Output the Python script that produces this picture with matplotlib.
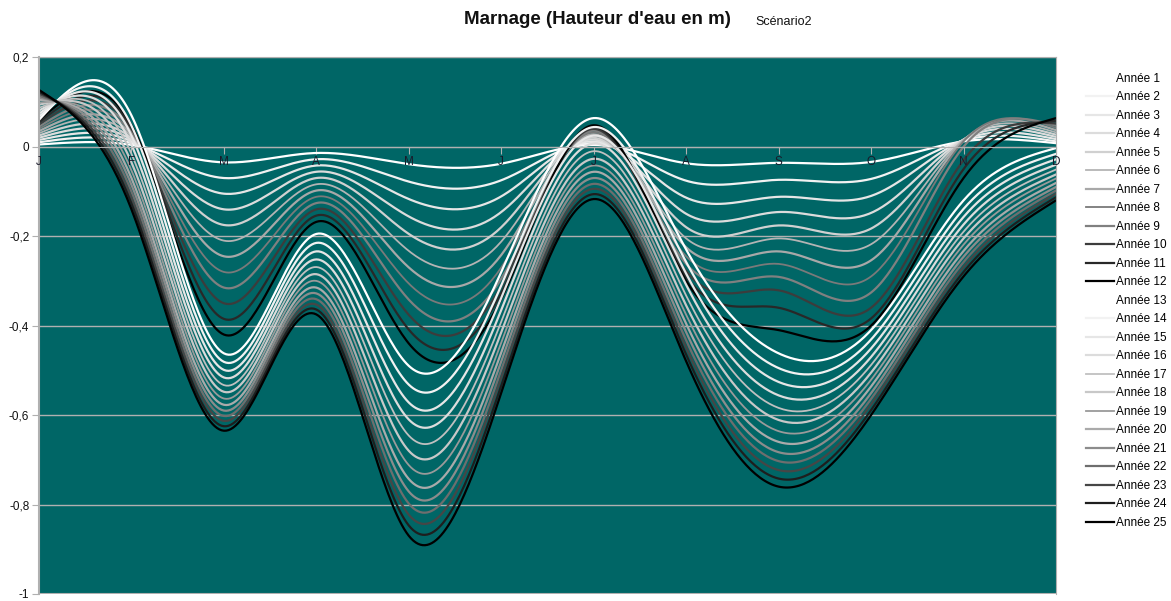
import numpy as np
import matplotlib
matplotlib.use("Agg")
import matplotlib.pyplot as plt
from matplotlib.lines import Line2D

plt.rcParams['font.family'] = ['Liberation Sans', 'DejaVu Sans']

# Mois (axe des catégories)
mois = ["J", "F", "M", "A", "M", "J", "J", "A", "S", "O", "N", "D"]

# Hauteur d'eau mensuelle (m) pour chaque année
annee_01 = [0.005, 0.004, -0.035, -0.014, -0.039, -0.038, 0.004, -0.037, -0.036, -0.034, 0.012, 0.008]
annee_02 = [0.010, 0.008, -0.070, -0.028, -0.078, -0.075, 0.008, -0.076, -0.074, -0.072, 0.014, 0.012]
annee_03 = [0.015, 0.012, -0.105, -0.042, -0.117, -0.111, 0.012, -0.114, -0.112, -0.110, 0.015, 0.017]
annee_04 = [0.020, 0.016, -0.140, -0.056, -0.156, -0.146, 0.016, -0.150, -0.146, -0.148, 0.016, 0.022]
annee_05 = [0.025, 0.020, -0.175, -0.070, -0.195, -0.180, 0.020, -0.180, -0.176, -0.183, 0.016, 0.027]
annee_06 = [0.030, 0.024, -0.210, -0.084, -0.233, -0.212, 0.024, -0.205, -0.205, -0.218, 0.015, 0.032]
annee_07 = [0.035, 0.028, -0.245, -0.098, -0.270, -0.242, 0.028, -0.225, -0.234, -0.254, 0.014, 0.037]
annee_08 = [0.040, 0.032, -0.280, -0.112, -0.306, -0.270, 0.032, -0.245, -0.262, -0.290, 0.012, 0.042]
annee_09 = [0.045, 0.036, -0.315, -0.126, -0.342, -0.295, 0.036, -0.262, -0.291, -0.326, 0.000, 0.047]
annee_10 = [0.050, 0.040, -0.350, -0.140, -0.376, -0.312, 0.040, -0.278, -0.321, -0.360, -0.030, 0.052]
annee_11 = [0.055, 0.044, -0.385, -0.154, -0.409, -0.327, 0.044, -0.290, -0.360, -0.384, -0.050, 0.058]
annee_12 = [0.060, 0.048, -0.420, -0.168, -0.440, -0.340, 0.048, -0.300, -0.410, -0.400, -0.070, 0.064]
annee_13 = [0.060, 0.070, -0.462, -0.195, -0.490, -0.280, 0.064, -0.230, -0.462, -0.410, -0.120, -0.003]
annee_14 = [0.067, 0.047, -0.481, -0.215, -0.532, -0.310, 0.044, -0.258, -0.495, -0.431, -0.139, -0.016]
annee_15 = [0.074, 0.025, -0.499, -0.234, -0.572, -0.338, 0.025, -0.284, -0.526, -0.451, -0.157, -0.028]
annee_16 = [0.081, 0.004, -0.516, -0.252, -0.610, -0.365, 0.007, -0.309, -0.556, -0.470, -0.174, -0.040]
annee_17 = [0.087, -0.016, -0.533, -0.269, -0.646, -0.391, -0.010, -0.333, -0.584, -0.488, -0.190, -0.051]
annee_18 = [0.094, -0.035, -0.548, -0.285, -0.680, -0.415, -0.027, -0.355, -0.611, -0.505, -0.205, -0.062]
annee_19 = [0.099, -0.053, -0.563, -0.300, -0.712, -0.438, -0.042, -0.376, -0.636, -0.521, -0.219, -0.071]
annee_20 = [0.105, -0.070, -0.577, -0.315, -0.743, -0.460, -0.056, -0.396, -0.660, -0.536, -0.233, -0.081]
annee_21 = [0.110, -0.085, -0.590, -0.328, -0.771, -0.480, -0.070, -0.415, -0.683, -0.551, -0.246, -0.090]
annee_22 = [0.114, -0.100, -0.602, -0.341, -0.798, -0.499, -0.083, -0.433, -0.703, -0.564, -0.258, -0.098]
annee_23 = [0.119, -0.114, -0.613, -0.353, -0.823, -0.516, -0.094, -0.449, -0.723, -0.576, -0.269, -0.105]
annee_24 = [0.123, -0.127, -0.625, -0.364, -0.847, -0.534, -0.106, -0.465, -0.742, -0.589, -0.280, -0.113]
annee_25 = [0.127, -0.140, -0.635, -0.375, -0.870, -0.550, -0.117, -0.480, -0.760, -0.600, -0.290, -0.120]

series = [annee_01, annee_02, annee_03, annee_04, annee_05, annee_06, annee_07,
          annee_08, annee_09, annee_10, annee_11, annee_12, annee_13, annee_14,
          annee_15, annee_16, annee_17, annee_18, annee_19, annee_20, annee_21,
          annee_22, annee_23, annee_24, annee_25]
noms = ["Année %d" % i for i in range(1, 26)]

# Niveaux de gris de chaque année
couleurs = ["#ffffff", "#f2f2f2", "#e6e6e6", "#dcdcdc", "#d0d0d0", "#b4b4b4",
            "#a8a8a8", "#7a7a7a", "#808080", "#3c3c3c", "#282828", "#000000",
            "#ffffff", "#f2f2f2", "#e6e6e6", "#dcdcdc", "#c0c0c0", "#c8c8c8",
            "#9a9a9a", "#aaaaaa", "#8c8c8c", "#6e6e6e", "#464646", "#1e1e1e",
            "#000000"]
epaisseurs = [1.6, 1.6, 1.6, 1.6, 1.6, 1.3, 1.6, 1.3, 1.6, 1.6, 1.6, 1.6,
              1.6, 1.6, 1.6, 1.6, 1.3, 1.6, 1.3, 1.6, 1.6, 1.6, 1.6, 1.6, 1.6]

fond = "#006666"
gris = "#b0b0b0"


def spline_naturelle(y, pas=40):
    """Courbe lissée (spline cubique naturelle) sur des catégories équidistantes."""
    y = np.asarray(y, dtype=float)
    n = len(y)
    A = np.zeros((n, n))
    b = np.zeros(n)
    A[0, 0] = A[-1, -1] = 1.0
    for i in range(1, n - 1):
        A[i, i - 1], A[i, i], A[i, i + 1] = 1.0, 4.0, 1.0
        b[i] = 6.0 * (y[i + 1] - 2.0 * y[i] + y[i - 1])
    m = np.linalg.solve(A, b)
    xs, ys = [], []
    for i in range(n - 1):
        u = np.linspace(0.0, 1.0, pas, endpoint=(i == n - 2))
        s = (m[i] * (1 - u) ** 3 / 6 + m[i + 1] * u ** 3 / 6
             + (y[i] - m[i] / 6) * (1 - u) + (y[i + 1] - m[i + 1] / 6) * u)
        xs.append(i + u)
        ys.append(s)
    return np.concatenate(xs), np.concatenate(ys)


fig = plt.figure(figsize=(11.71, 6.01), dpi=100)
ax = fig.add_axes([0.0333, 0.0117, 0.8685, 0.8930])
ax.set_facecolor(fond)
ax.set_xlim(0, len(mois) - 1)
ax.set_ylim(-1.0, 0.2)

# Grille horizontale
yt = [0.2, 0.0, -0.2, -0.4, -0.6, -0.8, -1.0]
ax.set_yticks(yt)
ax.set_yticklabels(["0,2", "0", "-0,2", "-0,4", "-0,6", "-0,8", "-1"])
ax.tick_params(axis='y', length=5, color=gris, labelsize=8.5, pad=2, labelcolor="#111111")
ax.yaxis.grid(True, color=gris, linewidth=1.0)
ax.set_axisbelow(True)

# Axe des mois posé sur le zéro
ax.spines['bottom'].set_position(('data', 0.0))
ax.spines['bottom'].set_color(gris)
ax.set_xticks(range(len(mois)))
ax.set_xticklabels([])
ax.tick_params(axis='x', length=5, color=gris, direction='out')
for sp in ['left', 'right', 'top']:
    ax.spines[sp].set_color(gris)
ax.spines['left'].set_linewidth(1.5)

# Bordure basse du graphique à -1
ax.axhline(-1.0, color=gris, linewidth=1.5, zorder=1)

for y, c, lw in zip(series, couleurs, epaisseurs):
    xs, ys = spline_naturelle(y)
    ax.plot(xs, ys, color=c, linewidth=lw, solid_capstyle='round', zorder=2)

for i, m in enumerate(mois):
    ax.text(i, -0.034, m, ha='center', va='center', fontsize=8.5,
            color="#1a1a2a", zorder=3)

# Légende
poignees = [Line2D([0], [0], color=c, linewidth=lw) for c, lw in zip(couleurs, epaisseurs)]
fig.legend(poignees, noms, loc='upper left', bbox_to_anchor=(0.923, 0.8864),
           frameon=False, fontsize=8.5, handlelength=2.4, handletextpad=0.17,
           labelspacing=0.55, borderaxespad=0)

fig.text(0.51, 0.967, "Marnage (Hauteur d'eau en m)", ha='center', va='center',
         fontsize=13.5, fontweight='bold', color="#111111")
fig.text(0.645, 0.964, "Scénario2", ha='left', va='center', fontsize=9, color="#111111")

fig.savefig("out.png", dpi=100, facecolor="white")
